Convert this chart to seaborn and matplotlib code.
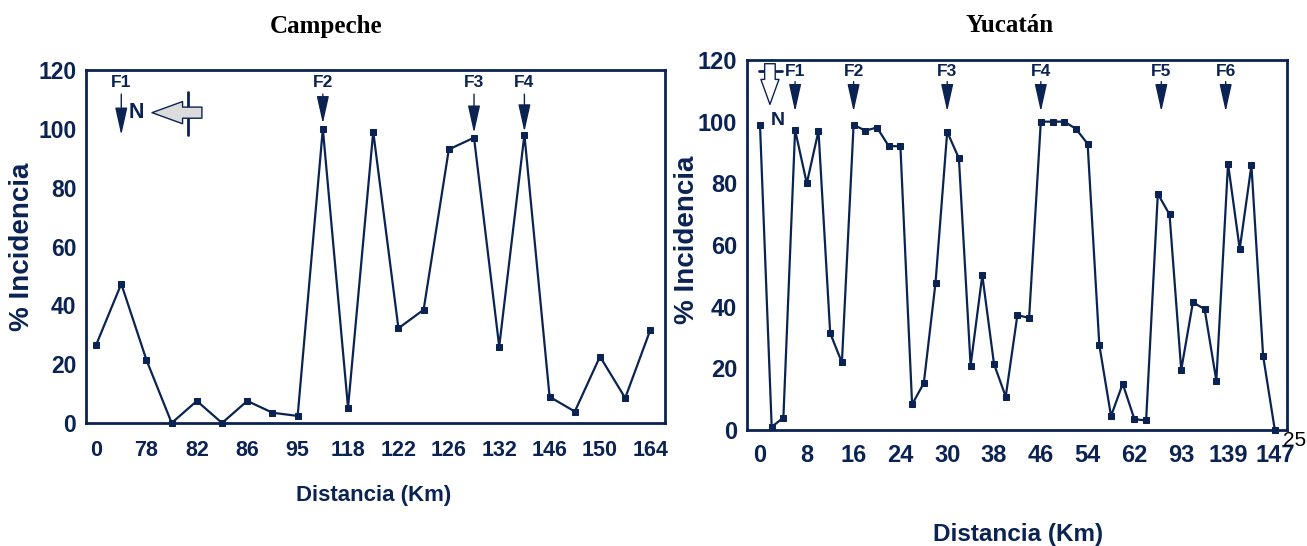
import matplotlib
matplotlib.use("Agg")
import matplotlib.pyplot as plt
import seaborn as sns
import pandas as pd
import numpy as np

# ---------------- data ----------------
camp_tick_labels = ['0', '78', '82', '86', '95', '118', '122', '126', '132', '146', '150', '164']
camp_values = [26.5, 47.3, 21.4, 0, 7.5, 0, 7.5, 3.5, 2.4, 100, 5.2, 99, 32.2, 38.5,
               93, 97, 26, 98, 8.9, 3.9, 22.6, 8.5, 31.7]
camp_flags = ['F1', 'F2', 'F3', 'F4']
camp_flag_pos = [1, 9, 15, 17]

yuc_tick_labels = ['0', '8', '16', '24', '30', '38', '46', '54', '62', '93', '139', '147']
yuc_values = [99, 1, 4, 97.3, 80, 97, 31.4, 21.9, 99, 97.1, 98.1, 92.1, 92, 8.3, 15.2,
              47.7, 96.7, 88.1, 20.9, 50.2, 21.4, 10.8, 37.3, 36.3, 100, 100, 100, 97.7,
              92.8, 27.6, 4.5, 15, 3.5, 3.1, 76.6, 69.9, 19.5, 41.4, 39.2, 16.0, 86.4,
              58.7, 85.8, 24, 0]
yuc_flags = ['F1', 'F2', 'F3', 'F4', 'F5', 'F6']
yuc_flag_pos = [3, 8, 16, 24, 34.3, 39.8]

NAVY = '#0b2352'

sns.set_theme(style='white')
plt.rcParams['font.family'] = ['Liberation Sans', 'DejaVu Sans']

fig = plt.figure(figsize=(13.07, 5.46), dpi=100)
W, H = 1307, 546
ax1 = fig.add_axes([86 / W, 1 - 423 / H, (665 - 86) / W, (423 - 70) / H])
ax2 = fig.add_axes([747 / W, 1 - 430 / H, (1287 - 747) / W, (430 - 60) / H])

df1 = pd.DataFrame({'pos': np.arange(len(camp_values)), 'val': camp_values})
df2 = pd.DataFrame({'pos': np.arange(len(yuc_values)), 'val': yuc_values})

for ax, df in ((ax1, df1), (ax2, df2)):
    sns.lineplot(data=df, x='pos', y='val', ax=ax, color=NAVY, linewidth=1.6,
                 marker='s', markersize=4.2, markeredgecolor=NAVY, markerfacecolor=NAVY,
                 clip_on=False, zorder=3)
    ax.set_ylim(0, 120)
    ax.set_xlabel('')
    ax.set_ylabel('% Incidencia', fontsize=20, fontweight='bold', color=NAVY)
    for s in ax.spines.values():
        s.set_color(NAVY)
        s.set_linewidth(2)
    ax.set_yticks(np.arange(0, 121, 20))
    ax.set_yticks(np.arange(10, 120, 20), minor=True)

# --- left axis
n1 = len(camp_values)
ax1.set_xlim(-0.4, 22.58)
ax1.set_xticks(np.arange(n1))
lab1 = [''] * n1
for i, t in enumerate(camp_tick_labels):
    lab1[2 * i] = t
ax1.set_xticklabels(lab1)
ax1.tick_params(axis='both', which='both', direction='in', color='#d0d0d0', width=1.5,
                length=6, labelcolor=NAVY)
ax1.tick_params(axis='x', labelsize=15.5, pad=12)
ax1.tick_params(axis='y', labelsize=16.5, pad=7)
ax1.yaxis.set_label_coords(-0.088, 0.5)

# --- right axis
n2 = len(yuc_values)
ax2.set_xlim(-1.11, 45.04)
ax2.set_xticks(np.arange(n2))
lab2 = [''] * n2
for i, t in enumerate(yuc_tick_labels):
    lab2[4 * i] = t
ax2.set_xticklabels(lab2)
ax2.tick_params(axis='both', which='both', direction='in', color=NAVY, width=1.5,
                length=8, labelcolor=NAVY)
ax2.tick_params(axis='x', labelsize=17, pad=10)
ax2.tick_params(axis='y', labelsize=17, pad=7)
ax2.yaxis.set_label_coords(-0.087, 0.515)

for ax in (ax1, ax2):
    for t in ax.get_xticklabels() + ax.get_yticklabels():
        t.set_fontweight('bold')

# --- flag arrows
def flag(ax, x, label, top, tip, ty, fs=12.5):
    ax.annotate('', xy=(x, tip), xytext=(x, top),
                arrowprops=dict(arrowstyle='-|>,head_length=1.7,head_width=0.38',
                                mutation_scale=10, color=NAVY, lw=1,
                                shrinkA=0, shrinkB=0), annotation_clip=False)
    ax.text(x, ty, label, ha='center', va='center', fontsize=fs,
            fontweight='bold', color=NAVY)

camp_tips = [97.9, 101.8, 98.6, 99.0]
for lab, x, tip in zip(camp_flags, camp_flag_pos, camp_tips):
    flag(ax1, x, lab, 111.8, tip, 115.6)
for lab, x in zip(yuc_flags, yuc_flag_pos):
    flag(ax2, x, lab, 113.0, 103.3, 116.3)

# --- north indicators
ax1.text(1.3, 105.5, 'N', ha='left', va='center', fontsize=15.5, fontweight='bold', color=NAVY)
ax1.annotate('', xy=(2.22, 105.5), xytext=(4.2, 105.5),
             arrowprops=dict(arrowstyle='simple,head_length=1.1,head_width=0.8,tail_width=0.4',
                             mutation_scale=20, fc='#dcdcdc', ec=NAVY, lw=1,
                             shrinkA=0, shrinkB=0))
ax1.plot([3.65, 3.65], [97.9, 112.5], color=NAVY, lw=2)

ax2.text(0.95, 100.3, 'N', ha='left', va='center', fontsize=14, fontweight='bold', color=NAVY)
ax2.annotate('', xy=(0.85, 105.6), xytext=(0.85, 118.8),
             arrowprops=dict(arrowstyle='simple,head_length=0.9,head_width=0.65,tail_width=0.38',
                             mutation_scale=20, fc='white', ec=NAVY, lw=1,
                             shrinkA=0, shrinkB=0), annotation_clip=False)
ax2.plot([-0.1, 1.9], [116.3, 116.3], color=NAVY, lw=2)

# --- titles and axis labels
fig.text(326 / W, 1 - 26 / H, 'Campeche', ha='center', va='center', fontsize=18,
         fontweight='bold', family='Liberation Serif', color='black')
fig.text(1010 / W, 1 - 26 / H, 'Yucatán', ha='center', va='center', fontsize=18,
         fontweight='bold', family='Liberation Serif', color='black')
fig.text(374 / W, 1 - 495 / H, 'Distancia (Km)', ha='center', va='center', fontsize=16,
         fontweight='bold', color=NAVY)
fig.text(1018 / W, 1 - 535 / H, 'Distancia (Km)', ha='center', va='center', fontsize=17.5,
         fontweight='bold', color=NAVY)
fig.text(1283 / W, 1 - 441 / H, '25', ha='left', va='center', fontsize=15, color='black')

fig.savefig('out.png', dpi=100)
